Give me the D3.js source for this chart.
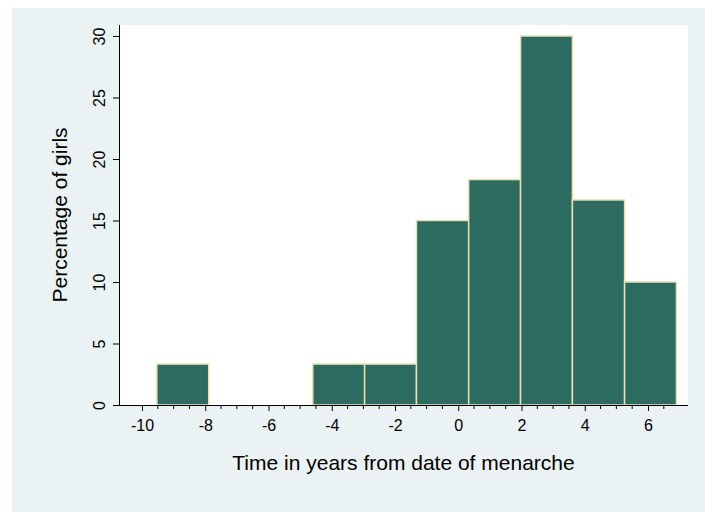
<!DOCTYPE html>
<html>
<head>
<meta charset="utf-8">
<script src="https://cdn.jsdelivr.net/npm/d3@7"></script>
<style>
  body { margin: 0; background: #fff; }
  text { font-family: "Liberation Sans", Arial, sans-serif; fill: #000; }
</style>
</head>
<body>
<svg id="chart"></svg>
<script>
const width = 714;
const height = 522;

// histogram bins (edges) and percentages
const binEdges = [-9.53, -7.89, -6.25, -4.60, -2.96, -1.32, 0.33, 1.97, 3.61, 5.26, 6.90];
const percents = [3.33, 0, 0, 3.33, 3.33, 15, 18.33, 30, 16.67, 10];
const xTicks = [-10, -8, -6, -4, -2, 0, 2, 4, 6];
const xMinorTicks = [-9.5, -9, -8.5, -7.5, -7, -6.5, -5.5, -5, -4.5, -3.5, -3, -2.5,
                     -1.5, -1, -0.5, 0.5, 1, 1.5, 2.5, 3, 3.5, 4.5, 5, 5.5, 6.5];
const yTicks = [0, 5, 10, 15, 20, 25, 30];

const plot = {left: 119, right: 688, top: 25, bottom: 405};
const font = '"Liberation Sans", Arial, sans-serif';

const svg = d3.select('#chart')
    .attr('width', width)
    .attr('height', height);

// graph region
svg.append('rect')
    .attr('x', 12).attr('y', 8)
    .attr('width', 693).attr('height', 504)
    .attr('fill', '#eaf2f3');

// plot region
svg.append('rect')
    .attr('x', plot.left).attr('y', plot.top)
    .attr('width', plot.right - plot.left).attr('height', plot.bottom - plot.top)
    .attr('fill', '#fff');

const x = d3.scaleLinear().domain([-10.727, 7.265]).range([plot.left, plot.right]);
const y = d3.scaleLinear().domain([0, 30]).range([plot.bottom, 36]);

const bins = percents.map((p, i) => ({x0: binEdges[i], x1: binEdges[i + 1], value: p}));

svg.append('g')
    .selectAll('rect')
    .data(bins.filter(d => d.value > 0))
    .enter().append('rect')
    .attr('x', d => x(d.x0))
    .attr('y', d => y(d.value))
    .attr('width', d => x(d.x1) - x(d.x0))
    .attr('height', d => y(0) - y(d.value))
    .attr('fill', '#2d6b61')
    .attr('stroke', '#e6e2b4')
    .attr('stroke-width', 1.5);

// x axis
const xAxis = svg.append('g').attr('transform', `translate(0, ${plot.bottom})`);
xAxis.call(d3.axisBottom(x).tickValues(xTicks).tickSize(6).tickPadding(9).tickFormat(d => d < 0 ? '-' + Math.abs(d) : d));
xAxis.select('.domain').attr('d', `M${plot.left},0.5H${plot.right}`).attr('stroke', '#000');
xAxis.selectAll('text').attr('font-size', 16).attr('font-family', font).attr('fill', '#000');
xAxis.selectAll('.tick line').attr('stroke', '#000');
svg.append('g')
    .attr('transform', `translate(0, ${plot.bottom})`)
    .selectAll('line')
    .data(xMinorTicks)
    .enter().append('line')
    .attr('x1', d => x(d)).attr('x2', d => x(d))
    .attr('y1', 0).attr('y2', 4)
    .attr('stroke', '#000');

// y axis
const yAxis = svg.append('g').attr('transform', `translate(${plot.left}, 0)`);
yAxis.call(d3.axisLeft(y).tickValues(yTicks).tickSize(6));
yAxis.select('.domain').attr('d', `M0.5,${plot.top}V${plot.bottom}`).attr('stroke', '#000');
yAxis.selectAll('.tick line').attr('stroke', '#000');
yAxis.selectAll('.tick text')
    .attr('x', 0).attr('y', 0).attr('dy', null)
    .attr('transform', 'translate(-14, 0) rotate(-90)')
    .attr('text-anchor', 'middle')
    .attr('font-size', 16)
    .attr('font-family', font)
    .attr('fill', '#000');

// axis titles
svg.append('text')
    .attr('x', (plot.left + plot.right) / 2)
    .attr('y', 470)
    .attr('text-anchor', 'middle')
    .attr('font-size', 21)
    .text('Time in years from date of menarche');

svg.append('text')
    .attr('transform', `translate(67, ${(plot.top + plot.bottom) / 2}) rotate(-90)`)
    .attr('text-anchor', 'middle')
    .attr('font-size', 21)
    .text('Percentage of girls');
</script>
</body>
</html>
